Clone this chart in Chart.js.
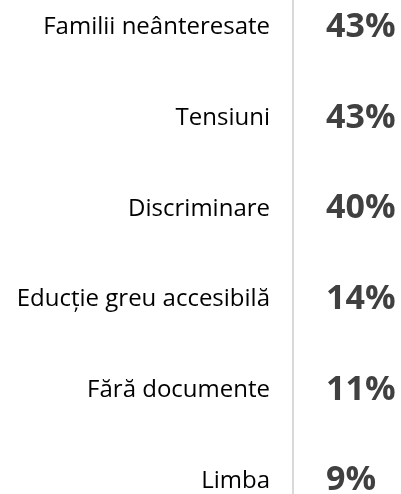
<!DOCTYPE html>
<html>
<head>
<meta charset="utf-8">
<script src="https://cdn.jsdelivr.net/npm/chart.js@4"></script>
<style>
  html, body { margin: 0; padding: 0; background: #fff; overflow: hidden; width: 401px; height: 494px; }
  #chart { position: absolute; left: 0; top: -18px; }
</style>
</head>
<body>
<canvas id="chart" width="401" height="544"></canvas>
<script>
const categories = ['Familii neânteresate', 'Tensiuni', 'Discriminare', 'Educție greu accesibilă', 'Fără documente', 'Limba'];
const shares = [43, 43, 40, 14, 11, 9];

const AXIS_X = 293;

// value labels sit just right of the axis line
const valueLabels = {
  id: 'valueLabels',
  afterDatasetsDraw(chart) {
    const { ctx, chartArea } = chart;
    const meta = chart.getDatasetMeta(0);
    ctx.save();
    ctx.font = 'bold 34px "Open Sans", sans-serif';
    ctx.fillStyle = '#404040';
    ctx.textAlign = 'left';
    ctx.textBaseline = 'middle';
    meta.data.forEach((bar, i) => {
      ctx.fillText(shares[i] + '%', chartArea.left + 33, bar.y);
    });
    ctx.restore();
  },
};

new Chart(document.getElementById('chart'), {
  type: 'bar',
  data: {
    labels: categories,
    datasets: [{
      data: shares,
      backgroundColor: 'rgba(0,0,0,0)',
      borderWidth: 0,
    }],
  },
  options: {
    indexAxis: 'y',
    responsive: false,
    animation: false,
    layout: { padding: 0 },
    plugins: { legend: { display: false }, tooltip: { enabled: false } },
    scales: {
      x: { display: false, min: 0, max: 100 },
      y: {
        afterFit: (scale) => {
          scale.width = AXIS_X;
          scale.paddingTop = 0;
          scale.paddingBottom = 0;
        },
        grid: { display: false },
        border: { display: true, color: '#d9d9d9', width: 2 },
        ticks: {
          padding: 15,
          color: '#000',
          font: { family: '"Open Sans", sans-serif', size: 24 },
        },
      },
    },
  },
  plugins: [valueLabels],
});
</script>
</body>
</html>
